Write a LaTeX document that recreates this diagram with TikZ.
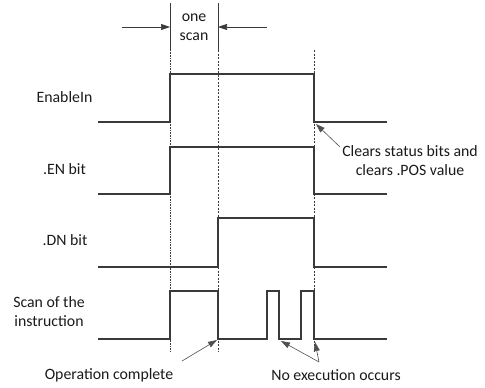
\documentclass[tikz,border=0pt]{standalone}
\usepackage{fontspec}
\setmainfont{Carlito}
\usetikzlibrary{arrows.meta}
\definecolor{wave}{HTML}{3A3A3A}
\definecolor{pointer}{HTML}{505050}
\definecolor{txt}{HTML}{1A1A1A}
\begin{document}
\begin{tikzpicture}[x=1pt,y=-1pt,
  wavestyle/.style={draw=wave,line width=1.1pt,line join=miter},
  guide/.style={draw=wave,line width=0.6pt,densely dotted},
  guidedash/.style={draw=wave,line width=0.6pt,dash pattern=on 2pt off 1.5pt},
  tick/.style={draw=wave,line width=0.9pt},
  pointarrow/.style={draw=pointer,line width=0.6pt,-{Triangle[length=9pt,width=6pt]}},
  lbl/.style={font=\fontsize{15.8}{19}\selectfont,text=txt,inner sep=0pt,align=center}]
\useasboundingbox (0,0) rectangle (485,388);
% labels
\node[lbl] (onescan) at (194,27) {one\\scan};
\node[lbl] (lenable) at (64.5,97) {EnableIn};
\node[lbl] (len) at (64.5,169) {.EN bit};
\node[lbl] (ldn) at (65,240) {.DN bit};
\node[lbl] (lscan) at (49,312) {Scan of the\\instruction};
\node[lbl] (lop) at (109,375) {Operation complete};
\node[lbl] (lnoexec) at (336,375) {No execution occurs};
\node[lbl] (lclear) at (410,161) {Clears status bits and\\clears .POS value};
% tick marks and guide lines
\coordinate (t1a) at (170,3); \coordinate (t1b) at (170,50); \coordinate (t1c) at (170,352);
\coordinate (t2a) at (218,3); \coordinate (t2b) at (218,50); \coordinate (t2c) at (218,352);
\coordinate (t3b) at (314,50); \coordinate (t3c) at (314,352);
\draw[tick] (t1a) -- (t1b);
\draw[tick] (t2a) -- (t2b);
\draw[guide] (t1b) -- (t1c);
\draw[guidedash] (t2b) -- (t2c);
\draw[guidedash] (t3b) -- (t3c);
\coordinate (al) at (122,27); \coordinate (alt) at (170,27);
\coordinate (ar) at (267,27); \coordinate (art) at (218,27);
\draw[pointarrow,draw=wave] (al) -- (alt);
\draw[pointarrow,draw=wave] (ar) -- (art);
% waveforms
\draw[wavestyle] (98,122) -- (170,122) -- (170,74) -- (314,74) -- (314,122) -- (387,122);
\draw[wavestyle] (98,194) -- (170,194) -- (170,147) -- (314,147) -- (314,194) -- (387,194);
\draw[wavestyle] (98,267) -- (218,267) -- (218,218) -- (314,218) -- (314,267) -- (387,267);
\draw[wavestyle] (98,339) -- (170,339) -- (170,291) -- (218,291) -- (218,339) -- (267,339)
  -- (267,291) -- (279,291) -- (279,339) -- (301,339) -- (301,291) -- (314,291) -- (314,339) -- (387,339);
% pointer arrows
\coordinate (cstart) at (340,147); \coordinate (cend) at (316,124);
\draw[pointarrow] (cstart) -- (cend);
\coordinate (ostart) at (182,361); \coordinate (oend) at (217,340);
\draw[pointarrow] (ostart) -- (oend);
\coordinate (nstart) at (319,362); \coordinate (nend1) at (281,341); \coordinate (nend2) at (315,342);
\draw[pointarrow] (nstart) -- (nend1);
\draw[pointarrow] (nstart) -- (nend2);
\end{tikzpicture}
\end{document}
